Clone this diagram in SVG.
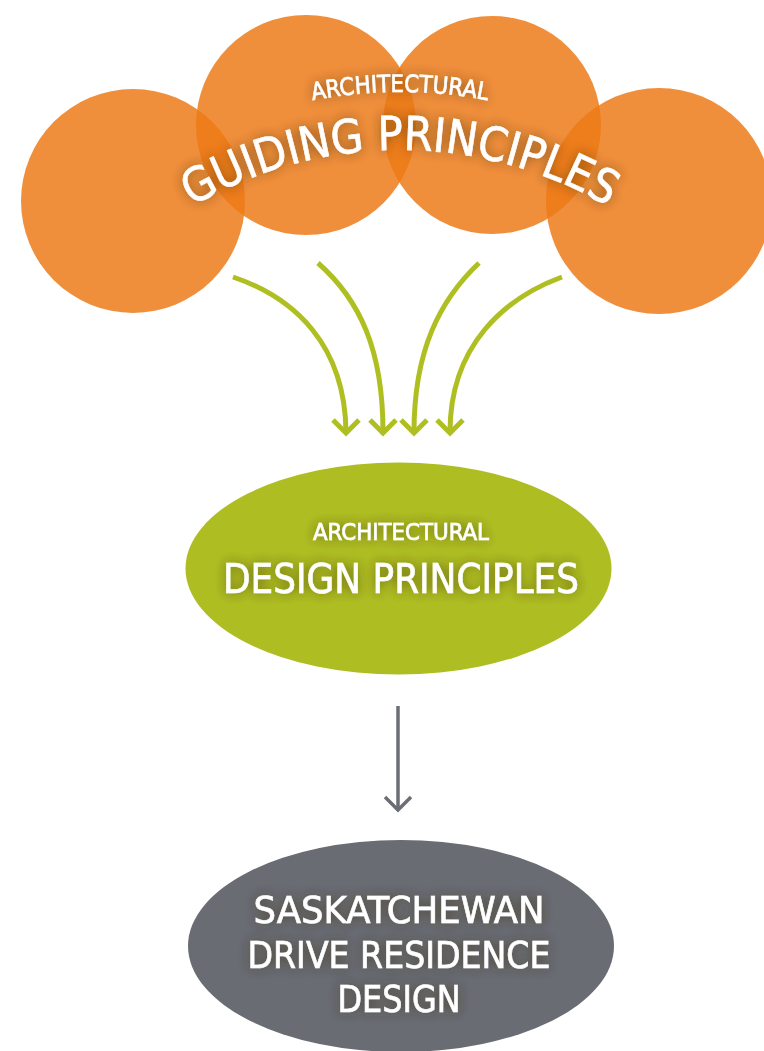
<svg xmlns="http://www.w3.org/2000/svg" xmlns:xlink="http://www.w3.org/1999/xlink" width="764" height="1051" viewBox="0 0 764 1051">
<style>
.c{fill:#ED7A16;fill-opacity:0.84}
.t{font-family:"DejaVu Sans Condensed","DejaVu Sans",sans-serif;fill:#fff;stroke:#fff;stroke-width:0.6;filter:url(#sh)}
.g{fill:none;stroke:#AFBF22;stroke-width:5}
.k{fill:none;stroke:#6B6E75;stroke-width:3.5}
</style>
<defs>
<filter id="sh" x="-20%" y="-50%" width="140%" height="200%">
<feGaussianBlur in="SourceAlpha" stdDeviation="6" result="b"/>
<feFlood flood-color="#3a2a10" flood-opacity="0.6"/>
<feComposite in2="b" operator="in" result="s"/>
<feMerge><feMergeNode in="s"/><feMergeNode in="SourceGraphic"/></feMerge>
</filter>
<path id="arcBig" d="M176.7,216.1 A410,410 0 0 1 623.3,216.1"/>
<path id="arcSmall" d="M240,120.2 A468,468 0 0 1 560,120.2"/>
</defs>
<g id="guiding">
<circle class="c" cx="133" cy="201" r="112"/>
<circle class="c" cx="306" cy="125" r="110"/>
<circle class="c" cx="492" cy="125" r="109"/>
<circle class="c" cx="659" cy="201" r="113"/>
<text class="t" font-size="24"><textPath xlink:href="#arcSmall" startOffset="50%" text-anchor="middle" textLength="176" lengthAdjust="spacingAndGlyphs">ARCHITECTURAL</textPath></text>
<text class="t" font-size="47"><textPath xlink:href="#arcBig" startOffset="50%" text-anchor="middle" textLength="436" lengthAdjust="spacingAndGlyphs">GUIDING PRINCIPLES</textPath></text>
</g>
<g id="connectors">
<path class="g" d="M233,277 C295,298 345,345 346,432"/>
<path class="g" d="M318,263 C360,300 383,350 383,432"/>
<path class="g" d="M479,263 C440,300 414,350 414,432"/>
<path class="g" d="M562,277 C505,298 450,345 450,432"/>
<path class="g" d="M333,420 L346,433 L359,420"/>
<path class="g" d="M370,420 L383,433 L396,420"/>
<path class="g" d="M401,420 L414,433 L427,420"/>
<path class="g" d="M437,420 L450,433 L463,420"/>
<path class="k" d="M398,706 L398,809"/>
<path class="k" d="M385,797 L398,810 L411,797"/>
</g>
<g id="design">
<ellipse cx="398.5" cy="568.5" rx="213" ry="106" fill="#AEBE22"/>
<text class="t" x="401" y="540" font-size="23" text-anchor="middle" textLength="176" lengthAdjust="spacingAndGlyphs">ARCHITECTURAL</text>
<text class="t" x="401" y="593" font-size="41" text-anchor="middle" textLength="356" lengthAdjust="spacingAndGlyphs">DESIGN PRINCIPLES</text>
</g>
<g id="residence">
<ellipse cx="401" cy="946" rx="213" ry="106" fill="#696C73"/>
<text class="t" x="399" y="923" font-size="37" text-anchor="middle" textLength="291" lengthAdjust="spacingAndGlyphs">SASKATCHEWAN</text>
<text class="t" x="399" y="968" font-size="37" text-anchor="middle" textLength="303" lengthAdjust="spacingAndGlyphs">DRIVE RESIDENCE</text>
<text class="t" x="399" y="1012" font-size="37" text-anchor="middle" textLength="123" lengthAdjust="spacingAndGlyphs">DESIGN</text>
</g>
</svg>
